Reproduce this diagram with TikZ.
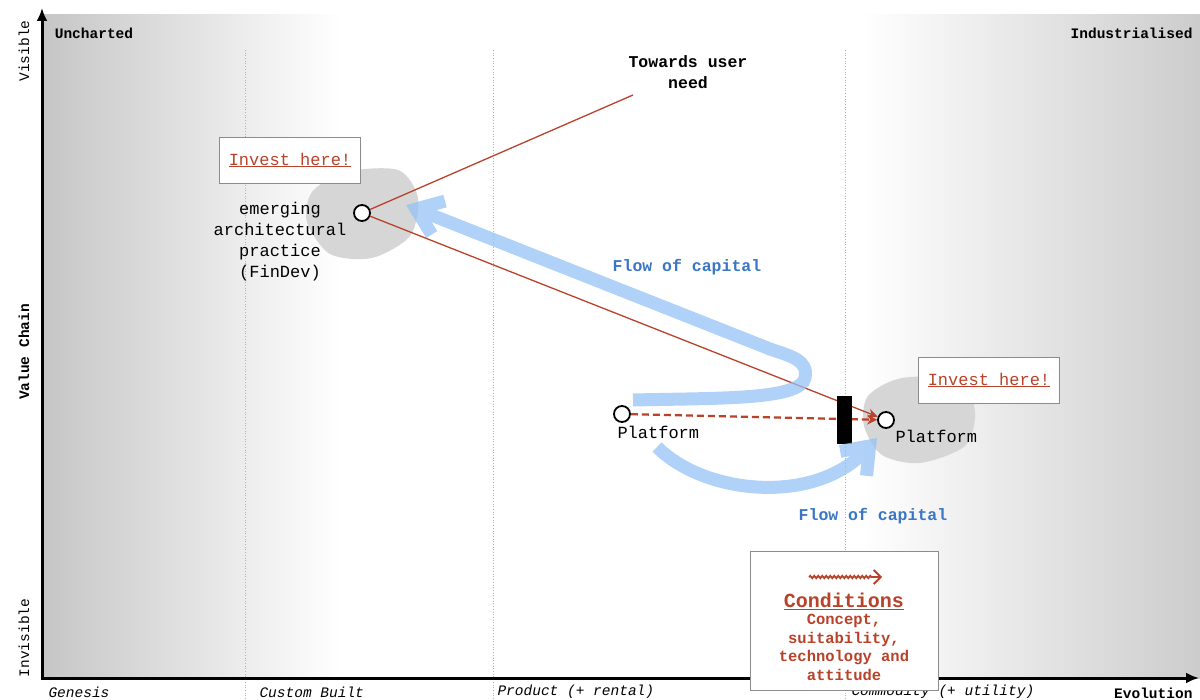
\documentclass[tikz,border=0pt]{standalone}
\usepackage{fontspec}
\setmainfont{Liberation Mono}
\usetikzlibrary{arrows.meta,positioning,calc,decorations.pathmorphing}
\definecolor{mapred}{RGB}{184,66,42}
\definecolor{flowtxt}{RGB}{58,118,196}
\definecolor{flowblue}{RGB}{150,195,245}
\definecolor{blobgray}{RGB}{214,214,214}

\begin{document}
\begin{tikzpicture}[x=1pt,y=-1pt,
  every node/.style={font=\fontsize{17}{21}\selectfont},
  comp/.style={circle,draw=black,line width=1.8pt,fill=white,minimum size=16pt,inner sep=0pt},
  edge/.style={font=\fontsize{14.5}{17}\selectfont\bfseries},
  side/.style={font=\fontsize{14.5}{17}\selectfont,rotate=90},
  stage/.style={font=\fontsize{14.5}{17}\selectfont\itshape,anchor=west},
  invest/.style={draw=black!45,fill=white,text=mapred,minimum width=141pt,minimum height=46pt},
  flowlbl/.style={text=flowtxt,font=\fontsize{16.5}{20}\selectfont\bfseries},
  flow/.style={draw=flowblue,line width=13pt,-{Straight Barb[length=24pt,width=36pt]}},
  link/.style={draw=mapred,line width=1.3pt},
  evline/.style={draw=gray!60,dotted,line width=0.7pt},
  ax/.style={line width=3pt,{Latex[length=13pt,width=11pt]}-{Latex[length=13pt,width=11pt]}}]
\useasboundingbox (0,0) rectangle (1200,700);
% background
\shade[left color=gray!45,right color=white] (42,15) rectangle (340,678);
\shade[left color=white,right color=gray!40] (860,15) rectangle (1200,678);
\foreach \x in {245,493,845} \draw[evline] (\x,50) -- (\x,700);
\fill[blobgray] plot[smooth cycle] coordinates {(312,192) (345,172) (398,170) (418,198) (410,236) (372,258) (330,254) (307,222)};
\fill[blobgray] plot[smooth cycle] coordinates {(868,396) (902,378) (960,380) (975,412) (965,446) (920,463) (882,455) (864,426)};
% axes
\draw[ax] (42,8) |- (1199,678);
\node[edge] (unch) at (94,33) {Uncharted};
\node[edge,anchor=east] (indus) at (1196,33) {Industrialised};
\node[side] (vis) at (24,51) {Visible};
\node[side] (invis) at (24,638) {Invisible};
\node[side,font=\fontsize{14.5}{17}\selectfont\bfseries] (vchain) at (24,352) {Value Chain};
\node[stage] (gen) at (45,692) {Genesis};
\node[stage] (cust) at (256,692) {Custom Built};
\node[stage] (prod) at (494,692) {Product (+ rental)};
\node[stage] (comm) at (848,692) {Commodity (+ utility)};
\node[edge,anchor=east] (evol) at (1196,693) {Evolution};
% components
\node[comp] (findev) at (362,213) {};
\node[comp] (plat) at (622,414) {};
\node[comp] (platR) at (886,420) {};
\coordinate (need) at (633,95);
\node[align=center,anchor=north] (findevtxt) at (280,199) {emerging\\architectural\\practice\\(FinDev)};
\node[anchor=north west] (plattxt) at (614,423) {Platform};
\node[anchor=north west] (platRtxt) at (892,427) {Platform};
\node[font=\fontsize{16.5}{21}\selectfont\bfseries,align=center] (needtxt) at (688,72) {Towards user\\need};
\node[invest] (inv1) at (290,160) {\underline{Invest here!}};
\node[invest] (inv2) at (989,380) {\underline{Invest here!}};
\draw[link] (findev) -- (need);
\draw[link,-{Stealth[length=10pt,width=9pt]}] (findev) -- (platR);
\draw[link,line width=2.3pt,dash pattern=on 7pt off 4pt,-{Stealth[length=10pt,width=10pt]}] (plat) -- (platR);
\node[fill=black,minimum width=15pt,minimum height=48pt,inner sep=0pt] (inertia) at (844.5,420) {};
% flow of capital
\coordinate (flow1a) at (633,400);
\coordinate (flow1b) at (406,205);
\coordinate (flow2a) at (657,447);
\coordinate (flow2b) at (877,438);
\begin{scope}[transparency group,opacity=0.75]
\draw[flow] (flow1a) .. controls (720,398) and (800,400) .. (805,378) .. controls (809,360) and (790,356) .. (770,349) -- (flow1b);
\end{scope}
\begin{scope}[transparency group,opacity=0.75]
\draw[flow] (flow2a) .. controls (705,495) and (815,505) .. (flow2b);
\end{scope}
\node[flowlbl] (flow1txt) at (687,267) {Flow of capital};
\node[flowlbl] (flow2txt) at (873,516) {Flow of capital};
% conditions
\node[draw=black!45,fill=white,minimum width=188pt,minimum height=139pt] (cond) at (844,620.5) {};
\node[text=mapred,font=\fontsize{20}{24}\selectfont\bfseries] (condtitle) at (844,601) {\underline{Conditions}};
\node[text=mapred,font=\fontsize{15.5}{18.5}\selectfont\bfseries,align=center,below=-2pt of condtitle] (condtxt) {Concept,\\suitability,\\technology and\\attitude};
\coordinate (sqa) at (809,577);
\coordinate (sqb) at (882,577);
\draw[mapred,line width=1.8pt,decorate,decoration={snake,amplitude=1.2pt,segment length=4pt,post length=9pt},-{Straight Barb[length=7pt,width=14pt]}] (sqa) -- (sqb);
\end{tikzpicture}
\end{document}
